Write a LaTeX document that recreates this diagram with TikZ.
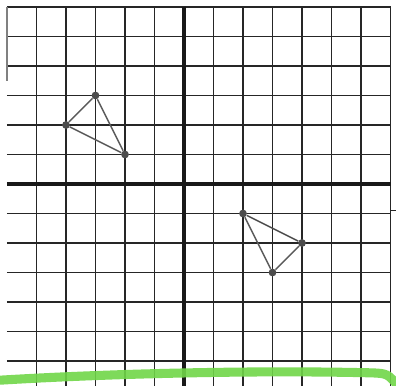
\documentclass[tikz,border=0pt]{standalone}
\definecolor{hilite}{RGB}{112,214,72}
\begin{document}
\begin{tikzpicture}[x=0.8cm, y=0.8cm,
    gridline/.style={black!85, line width=1.4pt},
    axisline/.style={black!90, line width=3.8pt},
    edge/.style={gray!70!black, line width=1.1pt},
    vertex/.style={circle, fill=black!70, inner sep=0pt, minimum size=6pt},
    marker/.style={hilite, line width=7pt, line cap=round}]
    \useasboundingbox (-6.237,-6.847) rectangle (7.186,6.237);

    \foreach \i in {-5,...,7} \draw[gridline] (\i,6) -- (\i,-6.9);
    \foreach \j in {-6,...,6} \draw[gridline] (-6,\j) -- (7,\j);
    \draw[gridline, black!50] (-6,6) -- (-6,3.5);

    \draw[axisline] (-6,0) -- (7,0);
    \draw[axisline] (0,6) -- (0,-6.9);
    \draw[gridline] (7,-0.9) -- (7.2,-0.9);

    \node[vertex] (a) at (-3,3){};
    \node[vertex] (b) at (-4,2){};
    \node[vertex] (c) at (-2,1){};
    \draw[edge] (a) -- (b) -- (c) -- (a);

    \node[vertex] (d) at (2,-1){};
    \node[vertex] (e) at (4,-2){};
    \node[vertex] (f) at (3,-3){};
    \draw[edge, black!70] (d) -- (e);
    \draw[edge] (e) -- (f) -- (d);

    \coordinate (g0) at (-6.4,-6.66);
    \coordinate (g1) at (6.3,-6.4);
    \coordinate (g2) at (7.3,-6.9);
    \draw[marker, opacity=0.9] (g0) .. controls (-3,-6.45) and (2,-6.3) .. (g1) .. controls (6.9,-6.42) .. (g2);
\end{tikzpicture}
\end{document}
